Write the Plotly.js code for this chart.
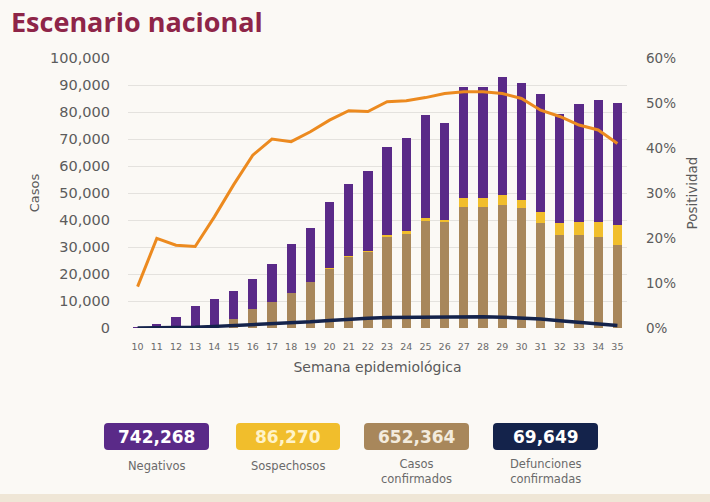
<!DOCTYPE html>
<html>
<head>
<meta charset="utf-8">
<script src="https://cdn.plot.ly/plotly-3.0.1.min.js"></script>
<style>
  html, body { margin: 0; padding: 0; background: #FBF9F5; }
  #chart { width: 710px; height: 502px; }
</style>
</head>
<body>
<div id="chart"></div>
<script>
// ---- Data ----
const weeks = ["10","11","12","13","14","15","16","17","18","19","20","21","22","23","24","25","26","27","28","29","30","31","32","33","34","35"];
const confirmados = [0, 100, 200, 500, 1200, 3500, 6900, 9500, 12800, 17000, 22000, 26200, 28300, 33600, 35000, 39600, 39200, 44900, 44900, 45600, 44300, 38800, 34400, 34400, 33800, 30700];
const sospechosos = [0, 0, 0, 0, 0, 0, 0, 0, 0, 100, 200, 300, 400, 700, 800, 1000, 800, 3100, 3100, 3700, 3100, 4300, 4400, 5000, 5600, 7400];
const negativos = [200, 1300, 4000, 7600, 9400, 10200, 11100, 14200, 18300, 20000, 24600, 26800, 29400, 32700, 34500, 38300, 35800, 41100, 41100, 43500, 43200, 43400, 40300, 43400, 45000, 45400];
const defunciones = [0, 10, 80, 300, 600, 900, 1200, 1500, 1900, 2300, 2800, 3300, 3600, 3900, 4000, 4100, 4000, 4200, 4200, 4000, 3700, 3300, 2700, 2200, 1700, 900];
const positividad = [0.092, 0.199, 0.184, 0.181, 0.247, 0.318, 0.384, 0.420, 0.414, 0.436, 0.462, 0.483, 0.481, 0.503, 0.505, 0.512, 0.521, 0.525, 0.525, 0.521, 0.510, 0.484, 0.470, 0.451, 0.440, 0.410];

const leftTickVals = [0, 10000, 20000, 30000, 40000, 50000, 60000, 70000, 80000, 90000, 100000];
const leftTickText = ["0", "10,000", "20,000", "30,000", "40,000", "50,000", "60,000", "70,000", "80,000", "90,000", "100,000"];
const rightTickVals = [0, 0.1, 0.2, 0.3, 0.4, 0.5, 0.6];
const rightTickText = ["0%", "10%", "20%", "30%", "40%", "50%", "60%"];

const chartTitle = "Escenario nacional";
const summaryValues = ["742,268", "86,270", "652,364", "69,649"];
const summaryLabels = ["Negativos", "Sospechosos", "Casos<br>confirmados", "Defunciones<br>confirmadas"];

// ---- Colours ----
const cPurple = "#5A2A88";
const cYellow = "#F1BE2C";
const cTan = "#A8875B";
const cNavy = "#14234B";
const cOrange = "#EC8A1F";
const summaryColors = [cPurple, cYellow, cTan, cNavy];
const summaryTextColors = ["#FFFFFF", "#FFF3C8", "#F3EBDD", "#FFFFFF"];

const FONT = "DejaVu Sans, sans-serif";

const traces = [
  { type: "bar", x: weeks, y: confirmados, name: "Casos confirmados", marker: { color: cTan }, hoverinfo: "skip" },
  { type: "bar", x: weeks, y: sospechosos, name: "Sospechosos", marker: { color: cYellow }, hoverinfo: "skip" },
  { type: "bar", x: weeks, y: negativos, name: "Negativos", marker: { color: cPurple }, hoverinfo: "skip" },
  { type: "scatter", mode: "lines", x: weeks, y: defunciones, name: "Defunciones", line: { color: cNavy, width: 3.5 }, hoverinfo: "skip" },
  { type: "scatter", mode: "lines", x: weeks, y: positividad, name: "Positividad", yaxis: "y2", line: { color: cOrange, width: 3 }, hoverinfo: "skip" }
];

// Plot area in pixels
const W = 710, H = 502;
const L = 128, R = 627, T = 58, B = 328;
const px = v => (v - L) / (R - L);
const py = v => (B - v) / (B - T);

function roundRect(x0, y0, x1, y1, r) {
  const P = (x, y) => px(x).toFixed(5) + "," + py(y).toFixed(5);
  return "M" + P(x0 + r, y0) + " L" + P(x1 - r, y0) + " Q" + P(x1, y0) + " " + P(x1, y0 + r) +
         " L" + P(x1, y1 - r) + " Q" + P(x1, y1) + " " + P(x1 - r, y1) +
         " L" + P(x0 + r, y1) + " Q" + P(x0, y1) + " " + P(x0, y1 - r) +
         " L" + P(x0, y0 + r) + " Q" + P(x0, y0) + " " + P(x0 + r, y0) + " Z";
}

const boxX = [[104, 209], [236, 340], [364, 469], [493, 598]];
const shapes = [];
const annotations = [];

// Title as annotation (kept inside the picture)
annotations.push({ xref: "paper", yref: "paper", x: px(10), y: py(2), xanchor: "left", yanchor: "top",
                   text: "<b>" + chartTitle + "</b>", showarrow: false, borderpad: 0,
                   font: { family: "Open Sans, sans-serif", size: 27, color: "#8E2548" } });

summaryValues.forEach((v, i) => {
  const [x0, x1] = boxX[i];
  shapes.push({ type: "path", xref: "paper", yref: "paper", path: roundRect(x0, 423, x1, 450, 4),
                fillcolor: summaryColors[i], line: { width: 0 }, layer: "above" });
  annotations.push({ xref: "paper", yref: "paper", x: px((x0 + x1) / 2), y: py(437), text: "<b>" + v + "</b>",
                     showarrow: false, xanchor: "center", yanchor: "middle",
                     font: { family: FONT, size: 17, color: summaryTextColors[i] } });
  const twoLine = summaryLabels[i].indexOf("<br>") >= 0;
  annotations.push({ xref: "paper", yref: "paper", x: px((x0 + x1) / 2), y: py(twoLine ? 472 : 466), text: summaryLabels[i],
                     showarrow: false, xanchor: "center", yanchor: "middle",
                     font: { family: FONT, size: 11.5, color: "#6a6a6a" } });
});
// bottom strip
shapes.push({ type: "rect", xref: "paper", yref: "paper", x0: px(0), x1: px(W), y0: py(H), y1: py(494),
              fillcolor: "#EFE6D6", line: { width: 0 }, layer: "below" });

const layout = {
  width: W, height: H,
  paper_bgcolor: "#FBF9F5", plot_bgcolor: "rgba(0,0,0,0)",
  margin: { l: L, r: W - R, t: T, b: H - B, pad: 0 },
  barmode: "stack", bargap: 0.52,
  showlegend: false,
  xaxis: {
    type: "category", showgrid: false, zeroline: false, showline: false, ticks: "",
    tickfont: { family: FONT, size: 9.5, color: "#6a6a6a" }, tickangle: 0, ticklabelstandoff: 11,
    title: { text: "Semana epidemiológica", font: { family: FONT, size: 14, color: "#5a5a5a" }, standoff: 11 }
  },
  yaxis: {
    range: [0, 100000], tickvals: leftTickVals, ticktext: leftTickText,
    showgrid: true, gridcolor: "#E4E2DE", gridwidth: 1, zeroline: false, showline: false, ticks: "",
    tickfont: { family: FONT, size: 14.5, color: "#5c5c5c" }, ticklabelstandoff: 17,
    title: { text: "Casos", font: { family: FONT, size: 13, color: "#5a5a5a" }, standoff: 7 }
  },
  yaxis2: {
    overlaying: "y", side: "right", range: [0, 0.6], tickvals: rightTickVals, ticktext: rightTickText,
    showgrid: false, zeroline: false, showline: false, ticks: "",
    tickfont: { family: FONT, size: 13.5, color: "#5c5c5c" }, ticklabelstandoff: 18,
    title: { text: "Positividad", font: { family: FONT, size: 13.5, color: "#5a5a5a" }, standoff: 12 }
  },
  shapes: shapes,
  annotations: annotations
};

Plotly.newPlot("chart", traces, layout, { displayModeBar: false, staticPlot: true });
</script>
</body>
</html>
